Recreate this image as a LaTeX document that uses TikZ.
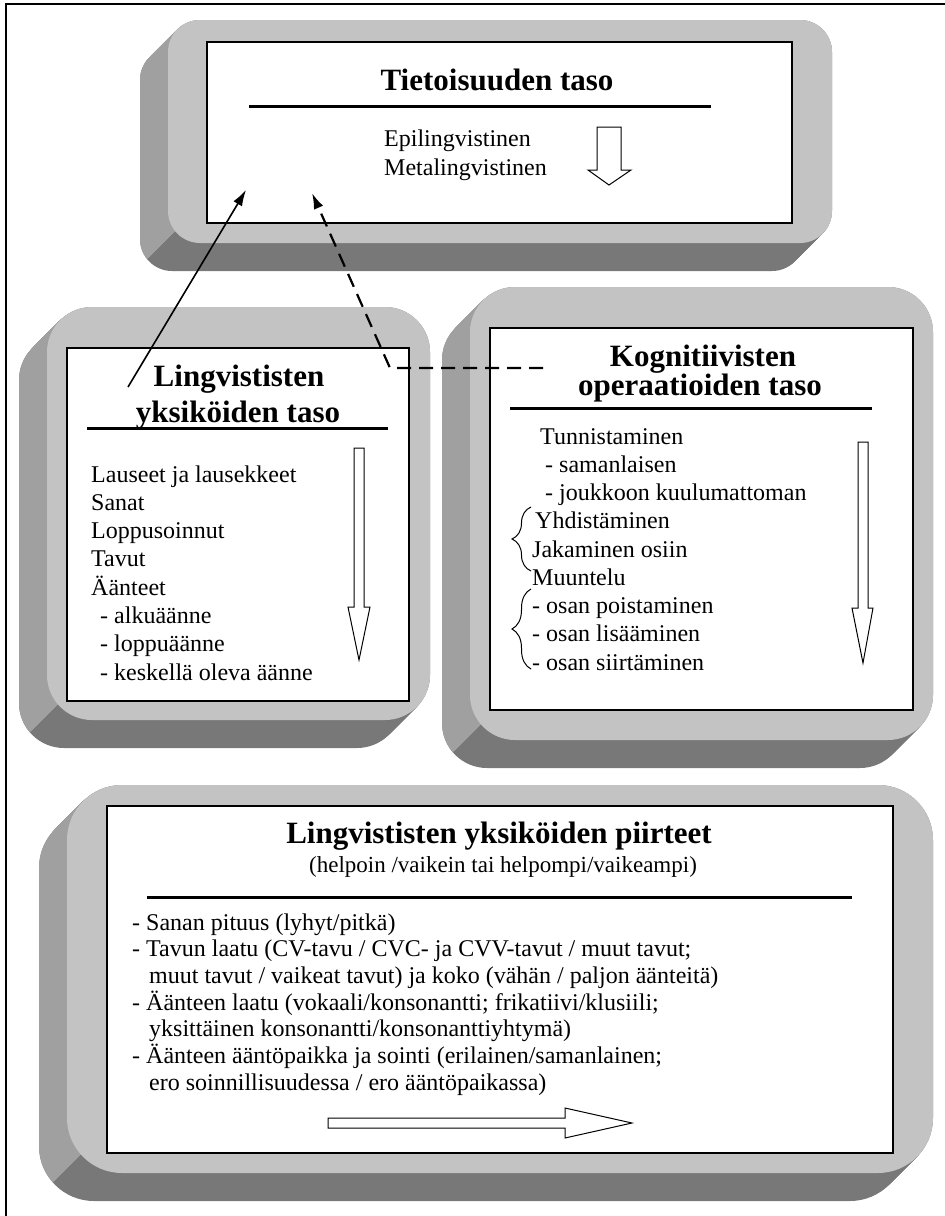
\documentclass[tikz,border=0pt]{standalone}
\usepackage{fontspec}
\setmainfont{Liberation Serif}
\usetikzlibrary{arrows.meta,positioning,fit,decorations.pathreplacing}

\definecolor{bevface}{RGB}{195,195,195}
\definecolor{bevside}{RGB}{160,160,160}
\definecolor{bevdark}{RGB}{120,120,120}

\newcommand{\itemfont}{\fontsize{24}{28}\selectfont}
\newcommand{\titlefont}{\fontsize{31}{36}\selectfont\bfseries}

% grey 3D plate: x1, y1, x2, y2 of the light face, corner radius
\newcommand{\bevel}[5]{%
  \foreach \k in {0,1,...,28}
    \fill[bevdark, rounded corners=#5] (#1-\k,#2+\k) rectangle (#3-\k,#4+\k);
  \begin{scope}
    \clip (#1-40,#2-5) -- (#1+15,#2-5) -- (#1+15,#4-20) -- (#1-40,#4+35) -- cycle;
    \foreach \k in {0,1,...,28}
      \fill[bevside, rounded corners=#5] (#1-\k,#2+\k) rectangle (#3-\k,#4+\k);
  \end{scope}
  \fill[bevface, rounded corners=#5] (#1,#2) rectangle (#3,#4);
}

\begin{document}
\begin{tikzpicture}[x=1pt, y=-1pt,
  panel/.style={draw, fill=white, line width=1.2pt, inner sep=0pt},
  title/.style={font=\titlefont, anchor=base, inner sep=0pt},
  item/.style={font=\itemfont, anchor=base west, inner sep=0pt},
  rule/.style={line width=3pt},
  hollow/.style={draw, fill=white, line width=1pt, line join=miter},
  curly/.style={line width=1pt, decorate, decoration={brace, amplitude=19pt}},
  link/.style={line width=1.6pt, -{Latex[length=16pt,width=10pt]}}]
\useasboundingbox (0,0) rectangle (945,1216);
\draw[line width=1.2pt] (6,1216) -- (6,4) -- (945,4);

% plates
\bevel{168}{20}{832}{243}{32pt}
\bevel{47}{307}{430}{720}{45pt}
\bevel{470}{287}{933}{740}{45pt}
\bevel{67}{785}{933}{1173}{55pt}

% top: Tietoisuuden taso
\node[panel, fit={(207,42) (792,223)}] (tieto) {};
\node[title] (tietotitle) at (497,90) {Tietoisuuden taso};
\draw[rule] (249,106) -- (711,106);
\node[item] (epi) at (384,146) {Epilingvistinen};
\node[item] (meta) at (384,175) {Metalingvistinen};
\draw[hollow] (597,127) -- (621,127) -- (621,170) -- (631,170) -- (609,185)
  -- (588,170) -- (597,170) -- cycle;

% left: Lingvististen yksiköiden taso
\node[panel, fit={(67,348) (409,701)}] (lingv) {};
\node[title] (lingvtitle) at (239,386) {Lingvististen};
\node[title] (lingvtitle2) at (238,422) {yksiköiden taso};
\draw[rule] (87,428) -- (388,428);
\foreach \x/\t [count=\i from 0] in {91/{Lauseet ja lausekkeet}, 91/Sanat,
    91/Loppusoinnut, 91/Tavut, 91/Äänteet, 100/{- alkuäänne},
    100/{- loppuäänne}, 100/{- keskellä oleva äänne}}
  \node[item] (l\i) at (\x,482+28.3*\i) {\t};
\draw[hollow] (354,448) -- (364,448) -- (364,607) -- (370,607) -- (359,660)
  -- (348,607) -- (354,607) -- cycle;

% right: Kognitiivisten operaatioiden taso
\node[panel, fit={(490,328) (913,710)}] (kogn) {};
\node[title] (kogntitle) at (703,366) {Kognitiivisten};
\node[title] (kogntitle2) at (700,395) {operaatioiden taso};
\draw[rule] (510,408) -- (872,408);
\foreach \x/\t [count=\i from 0] in {540/Tunnistaminen, 545/{- samanlaisen},
    545/{- joukkoon kuulumattoman}, 535/Yhdistäminen, 532/{Jakaminen osiin},
    532/Muuntelu, 532/{- osan poistaminen}, 532/{- osan lisääminen},
    532/{- osan siirtäminen}}
  \node[item] (k\i) at (\x,444+28.25*\i) {\t};
\draw[curly] (531,571) -- (531,507);
\draw[curly] (531,669) -- (531,589);
\draw[hollow] (858,442) -- (868,442) -- (868,608) -- (873,608) -- (863,663)
  -- (852,608) -- (858,608) -- cycle;

% bottom: Lingvististen yksiköiden piirteet
\node[panel, fit={(107,806) (893,1153)}] (piirt) {};
\node[title] (piirttitle) at (499,843) {Lingvististen yksiköiden piirteet};
\node[font=\fontsize{23}{27}\selectfont, anchor=base, inner sep=0pt] (piirtsub)
  at (503,872) {(helpoin /vaikein tai helpompi/vaikeampi)};
\draw[rule] (147,897) -- (852,897);
\foreach \x/\t [count=\i from 0] in {132/{- Sanan pituus (lyhyt/pitkä)},
    132/{- Tavun laatu (CV-tavu / CVC- ja CVV-tavut / muut tavut;},
    149/{muut tavut / vaikeat tavut) ja koko (vähän / paljon äänteitä)},
    132/{- Äänteen laatu (vokaali/konsonantti; frikatiivi/klusiili;},
    149/{yksittäinen konsonantti/konsonanttiyhtymä)},
    132/{- Äänteen ääntöpaikka ja sointi (erilainen/samanlainen;},
    149/{ero soinnillisuudessa / ero ääntöpaikassa)}}
  \node[item] (p\i) at (\x,930+26.7*\i) {\t};
\draw[hollow] (328,1118) -- (565,1118) -- (565,1108) -- (632,1123) -- (565,1138)
  -- (565,1128) -- (328,1128) -- cycle;

% connectors
\coordinate (solidfrom) at (128,387);
\coordinate (solidto) at (246,190);
\coordinate (dashfrom) at (543,368);
\coordinate (dashbend) at (390,368);
\coordinate (dashto) at (312,193);
\draw[link] (solidfrom) -- (solidto);
\draw[link, line width=2.2pt, dash pattern=on 14pt off 8pt]
  (dashfrom) -- (dashbend) -- (dashto);
\end{tikzpicture}
\end{document}
